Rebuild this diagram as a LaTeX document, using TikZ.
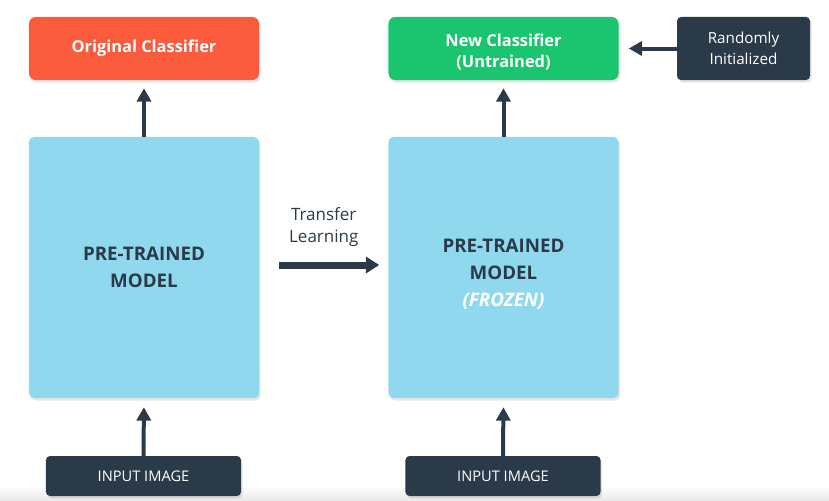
\documentclass[tikz,border=0pt]{standalone}
\usepackage{fontspec}
\setmainfont{Open Sans}
\usetikzlibrary{arrows.meta,shadows}

\definecolor{clsorange}{HTML}{FA5B3C}
\definecolor{clsgreen}{HTML}{1BC46E}
\definecolor{modelblue}{HTML}{8FD8EE}
\definecolor{darkslate}{HTML}{2B3A48}

\begin{document}
\begin{tikzpicture}[x=0.03cm,y=-0.03cm,
    box/.style={rounded corners=0.2cm, align=center, inner sep=0pt,
      drop shadow={opacity=0.2, shadow xshift=0.05cm, shadow yshift=-0.08cm}},
    clsbox/.style={box, minimum width=6.9cm, minimum height=1.89cm,
      text=white, font=\fontsize{14}{17.5}\selectfont\bfseries},
    modelbox/.style={box, rounded corners=0.15cm, fill=modelblue,
      minimum width=6.9cm, minimum height=7.83cm, text=darkslate,
      font=\fontsize{16}{23}\selectfont\bfseries},
    darkbox/.style={box, rounded corners=0.12cm, fill=darkslate, text=white},
    uparrow/.style={darkslate, line width=0.12cm,
      -{Triangle[width=0.42cm,length=0.4cm]}},
  ]
\useasboundingbox (0,0) rectangle (829,501);
\shade[top color=white, bottom color=black!9] (0,486) rectangle (829,501);

% classifiers
\node[clsbox, fill=clsorange] (origcls) at (144,48.5) {Original Classifier};
\node[clsbox, fill=clsgreen] (newcls) at (503.5,48.5) {\rule{0pt}{0.6cm}New Classifier\\(Untrained)};
\node[darkbox, minimum width=3.99cm, minimum height=1.89cm,
  font=\fontsize{13}{18}\selectfont] (randinit) at (743.5,48.5) {Randomly\\Initialized};

% models
\node[modelbox] (modelL) at (144,267.5) {PRE-TRAINED\\MODEL};
\node[modelbox] (modelR) at (503.5,267.5) {\rule{0pt}{0.8cm}PRE-TRAINED\\MODEL\\{\color{white}\itshape(FROZEN)}};

% inputs
\node[darkbox, minimum width=5.85cm, minimum height=1.2cm,
  font=\fontsize{12.5}{15}\selectfont] (inputL) at (143.5,476) {INPUT IMAGE};
\node[darkbox, minimum width=5.85cm, minimum height=1.2cm,
  font=\fontsize{12.5}{15}\selectfont] (inputR) at (503,476) {INPUT IMAGE};

% arrows
\draw[uparrow, shorten >=0.24cm] (modelL.north) -- (origcls.south);
\draw[uparrow, shorten >=0.24cm] (modelR.north) -- (newcls.south);
\draw[uparrow, shorten >=0.27cm] (inputL.north) -- (modelL.south);
\draw[uparrow, shorten >=0.27cm] (inputR.north) -- (modelR.south);
\draw[uparrow, shorten >=0.3cm] (randinit.west) -- (newcls.east);
\draw[darkslate, line width=0.21cm, -{Triangle[width=0.48cm,length=0.4cm]},
  shorten <=0.6cm, shorten >=0.27cm] (modelL.east |- 0,265) -- (modelR.west |- 0,265)
  node[midway, above=0.33cm, text=darkslate, align=center,
    font=\fontsize{14.5}{18.5}\selectfont] (xferlbl) {Transfer\\Learning};

\end{tikzpicture}
\end{document}
